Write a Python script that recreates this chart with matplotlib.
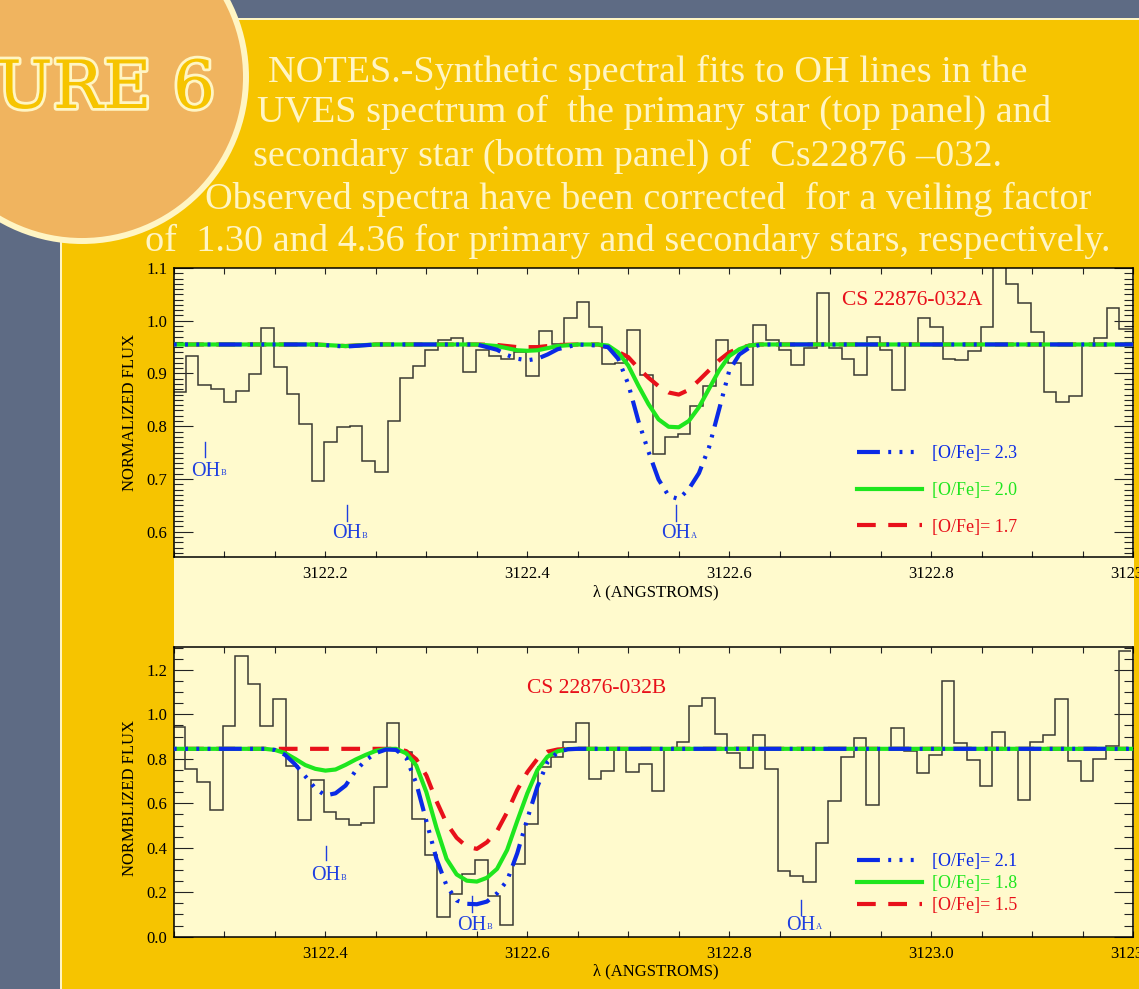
import numpy as np
import matplotlib
matplotlib.use('Agg')
import matplotlib.pyplot as plt
from matplotlib.patches import Rectangle, Circle
from matplotlib.ticker import MultipleLocator, FormatStrFormatter
from matplotlib import patheffects

plt.rcParams['font.family'] = ['Liberation Serif', 'DejaVu Serif']

# spectrum pixel grid (Angstrom)
top_start = 3122.0553
bot_start = 3122.2544
pix_step = 0.0125

# observed flux, primary star (top panel)
top_flux = [0.864, 0.933, 0.879, 0.871, 0.846, 0.867, 0.899, 0.987, 0.912, 0.862,
            0.804, 0.697, 0.770, 0.799, 0.801, 0.735, 0.714, 0.810, 0.892, 0.915,
            0.945, 0.964, 0.967, 0.902, 0.945, 0.933, 0.928, 0.940, 0.896, 0.981,
            0.955, 1.005, 1.035, 0.988, 0.918, 0.920, 0.983, 0.898, 0.747, 0.779,
            0.786, 0.838, 0.877, 0.963, 0.920, 0.879, 0.991, 0.964, 0.945, 0.916,
            0.948, 1.052, 0.948, 0.928, 0.898, 0.969, 0.945, 0.869, 0.956, 1.006,
            0.989, 0.927, 0.925, 0.943, 0.989, 1.150, 1.070, 1.034, 0.978, 0.865,
            0.846, 0.857, 0.955, 0.968, 1.025, 0.985]

# observed flux, secondary star (bottom panel)
bot_flux = [0.945, 0.755, 0.697, 0.572, 0.949, 1.264, 1.135, 0.947, 1.069, 0.767,
            0.524, 0.705, 0.560, 0.530, 0.503, 0.510, 0.672, 0.960, 0.830, 0.531,
            0.368, 0.088, 0.193, 0.280, 0.343, 0.185, 0.051, 0.328, 0.508, 0.762,
            0.807, 0.877, 0.960, 0.710, 0.746, 0.850, 0.741, 0.778, 0.654, 0.840,
            0.874, 1.036, 1.074, 0.913, 0.827, 0.760, 0.905, 0.755, 0.297, 0.273,
            0.244, 0.422, 0.609, 0.807, 0.894, 0.594, 0.842, 0.940, 0.836, 0.735,
            0.815, 1.150, 0.871, 0.796, 0.677, 0.919, 0.850, 0.617, 0.875, 0.909,
            1.068, 0.790, 0.699, 0.800, 0.858, 1.283]

# synthetic spectra, top panel
top_model_wave = [3122.03, 3122.19, 3122.22, 3122.25, 3122.35, 3122.37, 3122.38, 3122.39,
                  3122.40, 3122.41, 3122.42, 3122.43, 3122.45, 3122.47, 3122.48, 3122.49,
                  3122.50, 3122.51, 3122.52, 3122.53, 3122.54, 3122.55, 3122.56, 3122.57,
                  3122.58, 3122.59, 3122.60, 3122.61, 3122.62, 3122.63, 3122.64, 3123.02]
top_fit_23 = [0.955, 0.955, 0.951, 0.955, 0.955, 0.945, 0.935, 0.928, 0.925, 0.928, 0.936,
              0.946, 0.955, 0.953, 0.950, 0.928, 0.880, 0.810, 0.752, 0.699, 0.668, 0.662,
              0.681, 0.711, 0.760, 0.832, 0.905, 0.936, 0.949, 0.954, 0.955, 0.955]
top_fit_20 = [0.955, 0.955, 0.952, 0.955, 0.955, 0.952, 0.948, 0.944, 0.943, 0.944, 0.948,
              0.952, 0.955, 0.955, 0.953, 0.940, 0.915, 0.877, 0.842, 0.813, 0.799, 0.798,
              0.810, 0.836, 0.871, 0.906, 0.933, 0.946, 0.953, 0.955, 0.955, 0.955]
top_fit_17 = [0.955, 0.955, 0.952, 0.955, 0.955, 0.954, 0.952, 0.950, 0.950, 0.950, 0.952,
              0.954, 0.955, 0.955, 0.950, 0.941, 0.931, 0.910, 0.892, 0.876, 0.864, 0.860,
              0.869, 0.887, 0.906, 0.925, 0.940, 0.948, 0.953, 0.955, 0.955, 0.955]

# synthetic spectra, bottom panel
bot_model_wave = [3122.23, 3122.34, 3122.35, 3122.36, 3122.37, 3122.38, 3122.39, 3122.40,
                  3122.41, 3122.42, 3122.43, 3122.44, 3122.45, 3122.46, 3122.47, 3122.48,
                  3122.49, 3122.50, 3122.51, 3122.52, 3122.53, 3122.54, 3122.55, 3122.56,
                  3122.57, 3122.58, 3122.59, 3122.60, 3122.61, 3122.62, 3122.63, 3122.64,
                  3122.65, 3123.22]
bot_fit_21 = [0.845, 0.845, 0.840, 0.818, 0.775, 0.722, 0.667, 0.635, 0.645, 0.680, 0.747,
              0.794, 0.826, 0.842, 0.840, 0.805, 0.690, 0.520, 0.350, 0.230, 0.163, 0.148,
              0.146, 0.158, 0.195, 0.252, 0.375, 0.530, 0.675, 0.785, 0.830, 0.843, 0.845,
              0.845]
bot_fit_18 = [0.845, 0.845, 0.840, 0.826, 0.800, 0.772, 0.755, 0.747, 0.752, 0.773, 0.797,
              0.818, 0.836, 0.844, 0.845, 0.825, 0.770, 0.650, 0.490, 0.350, 0.280, 0.252,
              0.248, 0.265, 0.305, 0.390, 0.520, 0.645, 0.750, 0.810, 0.834, 0.844, 0.845,
              0.845]
bot_fit_15 = [0.845, 0.845, 0.845, 0.845, 0.845, 0.845, 0.845, 0.845, 0.845, 0.845, 0.845,
              0.845, 0.845, 0.845, 0.845, 0.835, 0.798, 0.725, 0.610, 0.510, 0.445, 0.405,
              0.395, 0.425, 0.475, 0.560, 0.660, 0.740, 0.800, 0.832, 0.842, 0.845, 0.845,
              0.845]

top_labels = ['[O/Fe]= 2.3', '[O/Fe]= 2.0', '[O/Fe]= 1.7']
bot_labels = ['[O/Fe]= 2.1', '[O/Fe]= 1.8', '[O/Fe]= 1.5']

title_lines = ['NOTES.-Synthetic spectral fits to OH lines in the',
               'UVES spectrum of  the primary star (top panel) and',
               'secondary star (bottom panel) of  Cs22876 \u2013032.',
               'Observed spectra have been corrected  for a veiling factor',
               'of  1.30 and 4.36 for primary and secondary stars, respectively.']

slate = '#5e6b84'
yellow = '#f6c400'
orange = '#f0b45f'
cream = '#fffacd'
pale = '#fff5c4'
hist_c = '#3a3a33'
blue = '#0a2ae6'
green = '#1ee61e'
red = '#e8101a'
oh_c = '#1f3fe0'

W, H = 1139, 989
fig = plt.figure(figsize=(W / 100, H / 100), dpi=100, facecolor=slate)
tr = fig.dpi_scale_trans

def fx(x):
    return x / W

def fy(y):
    return 1 - y / H

#slide background pieces, in inches from bottom-left
fig.add_artist(Rectangle((0.60, 0), (W - 60) / 100, (H - 18) / 100, fc=pale, ec='none',
                         transform=tr, zorder=-6))
fig.add_artist(Rectangle((0.62, 0), (W - 62) / 100, (H - 20) / 100, fc=yellow, ec='none',
                         transform=tr, zorder=-5))
fig.add_artist(Circle((0.82, (H - 77) / 100), 1.64, fc=orange, ec=pale, lw=4.3,
                      transform=tr, zorder=-4))
fig.add_artist(Rectangle((1.74, (H - 937) / 100), (1134 - 174) / 100, (937 - 268) / 100,
                         fc=cream, ec='none', transform=tr, zorder=-3))

fig.text(fx(215), fy(108), 'FIGURE 6', ha='right', va='baseline', fontsize=48,
         family='DejaVu Serif', color=yellow,
         path_effects=[patheffects.withStroke(linewidth=4, foreground=pale)])

line_x = [648, 654, 627, 648, 628]
line_y = [82, 122, 166, 209, 251]
for txt, cx, by in zip(title_lines, line_x, line_y):
    fig.text(fx(cx), fy(by), txt, ha='center', va='baseline', fontsize=27.5, color=pale)

ax1 = fig.add_axes([fx(174), fy(556.5), 959 / W, 288.5 / H])
ax2 = fig.add_axes([fx(174), fy(936.7), 959 / W, 289.7 / H])

def style_axes(ax, ymaj, ymnr):
    ax.set_facecolor(cream)
    ax.xaxis.set_major_locator(MultipleLocator(0.2))
    ax.xaxis.set_minor_locator(MultipleLocator(0.05))
    ax.yaxis.set_major_locator(MultipleLocator(ymaj))
    ax.yaxis.set_minor_locator(MultipleLocator(ymnr))
    ax.xaxis.set_major_formatter(FormatStrFormatter('%.1f'))
    ax.yaxis.set_major_formatter(FormatStrFormatter('%.1f'))
    ax.tick_params(which='both', direction='in', top=True, right=True, labelsize=12,
                   width=0.8, color='#222222')
    ax.tick_params(axis='x', which='both', length=4, pad=7)
    ax.tick_params(axis='y', which='major', length=13.5, pad=5)
    ax.tick_params(axis='y', which='minor', length=6.5)
    for s in ax.spines.values():
        s.set_linewidth(1.1)

def oh_label(ax, x, y0, y1, yt, sub):
    ax.plot([x, x], [y0, y1], color=oh_c, lw=1)
    t = ax.text(x, yt, 'OH', ha='center', va='center', fontsize=14.5, color=oh_c)
    ax.annotate(sub, xy=(1, 0.18), xycoords=t, xytext=(0.5, 0), textcoords='offset points',
                fontsize=6, color=oh_c, ha='left', va='bottom')

def draw_panel(ax, start, flux, mwave, fits):
    wave = start + pix_step * np.arange(len(flux))
    edges = np.append(wave - pix_step / 2, wave[-1] + pix_step / 2)
    ax.stairs(flux, edges, baseline=None, color=hist_c, lw=1.1, zorder=2)
    lr, = ax.plot(mwave, fits[2], color=red, lw=3, ls=(0, (4.5, 3)), zorder=3)
    lg, = ax.plot(mwave, fits[1], color=green, lw=3, zorder=4)
    lb, = ax.plot(mwave, fits[0], color=blue, lw=3,
                  ls=(0, (5.5, 2, 0.7, 2, 0.7, 2, 0.7, 2)), zorder=5)
    return [lb, lg, lr]

# top panel: primary star
h1 = draw_panel(ax1, top_start, top_flux, top_model_wave,
                [top_fit_23, top_fit_20, top_fit_17])
style_axes(ax1, 0.1, 0.01)
ax1.set_xlim(3122.05, 3123.0)
ax1.set_ylim(0.553, 1.1)
ax1.set_ylabel('NORMALIZED FLUX', fontsize=12)
ax1.yaxis.set_label_coords(-0.0376, 0.5)
ax1.set_xlabel('\u03bb (ANGSTROMS)', fontsize=12)
ax1.xaxis.set_label_coords(0.5026, -0.095)
ax1.text(0.7696, 0.889, 'CS 22876-032A', transform=ax1.transAxes, ha='center', va='center',
         fontsize=15.5, color=red)
ax1.legend(h1, top_labels, loc='upper left', bbox_to_anchor=(0.712, 0.3866), frameon=False,
           borderaxespad=0, borderpad=0, fontsize=13, handlelength=3.6, handletextpad=0.55,
           labelspacing=1.1, labelcolor='linecolor')
oh_label(ax1, 3122.081, 0.770, 0.7415, 0.715, 'B')
oh_label(ax1, 3122.221, 0.651, 0.621, 0.596, 'B')
oh_label(ax1, 3122.547, 0.651, 0.621, 0.596, 'A')

# bottom panel: secondary star
h2 = draw_panel(ax2, bot_start, bot_flux, bot_model_wave,
                [bot_fit_21, bot_fit_18, bot_fit_15])
style_axes(ax2, 0.2, 0.05)
ax2.set_xlim(3122.25, 3123.2)
ax2.set_ylim(0.0, 1.303)
ax2.set_ylabel('NORMBLIZED FLUX', fontsize=12)
ax2.yaxis.set_label_coords(-0.0376, 0.48)
ax2.set_xlabel('\u03bb (ANGSTROMS)', fontsize=12)
ax2.xaxis.set_label_coords(0.5026, -0.091)
ax2.text(0.441, 0.858, 'CS 22876-032B', transform=ax2.transAxes, ha='center', va='center',
         fontsize=15.5, color=red)
ax2.legend(h2, bot_labels, loc='upper left', bbox_to_anchor=(0.712, 0.2886), frameon=False,
           borderaxespad=0, borderpad=0, fontsize=13, handlelength=3.6, handletextpad=0.55,
           labelspacing=0.27, labelcolor='linecolor')
oh_label(ax2, 3122.4005, 0.410, 0.343, 0.275, 'B')
oh_label(ax2, 3122.545, 0.185, 0.109, 0.051, 'B')
oh_label(ax2, 3122.871, 0.163, 0.096, 0.051, 'A')

fig.savefig('out.png', dpi=100, facecolor=slate)
